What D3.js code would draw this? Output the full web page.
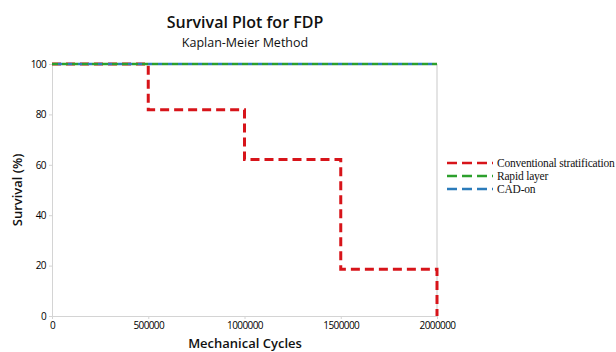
<!DOCTYPE html>
<html><head><meta charset="utf-8">
<script src="https://cdn.jsdelivr.net/npm/d3@7"></script>
<style>body{margin:0;background:#fff}svg{display:block}</style>
</head><body>
<script>
const cycles = [0, 500000, 1000000, 1500000, 2000000];
const conventional = [100, 81.8, 62.1, 18.6, 0];
const rapid = [100, 100, 100, 100, 100];
const cadon = [100, 100, 100, 100, 100];
const seriesNames = ["Conventional stratification", "Rapid layer", "CAD-on"];
const seriesColors = ["#d7141a", "#2ca02c", "#2b7bba"];
const xTicks = [0, 500000, 1000000, 1500000, 2000000];
const yTicks = [0, 20, 40, 60, 80, 100];

const W = 616, H = 352;
const m = {l: 52, r: 179, t: 64, b: 36};
const svg = d3.select("body").append("svg").attr("width", W).attr("height", H);
const x = d3.scaleLinear().domain([0, 2000000]).range([m.l, W - m.r]);
const y = d3.scaleLinear().domain([0, 100]).range([H - m.b, m.t]);
const font = "'Open Sans', 'Noto Sans', sans-serif";

// frame
svg.append("line").attr("x1", x(2000000)).attr("x2", x(2000000)).attr("y1", y(100)).attr("y2", y(0))
  .attr("stroke", "#e4e4e4").attr("stroke-width", 2);

const xa = svg.append("g").attr("transform", `translate(0,${y(0)})`)
  .call(d3.axisBottom(x).tickValues(xTicks).tickFormat(d3.format("d")).tickSize(3));
const ya = svg.append("g").attr("transform", `translate(${x(0)},0)`)
  .call(d3.axisLeft(y).tickValues(yTicks).tickSize(3));
[xa, ya].forEach(a => {
  a.select(".domain").attr("stroke", "#d4d4d4");
  a.selectAll(".tick line").attr("stroke", "#d4d4d4");
  a.selectAll("text").attr("font-family", font).attr("font-size", 10).attr("fill", "#000").attr("letter-spacing", "-0.6px");
});

const step = d3.line().x((d, i) => x(cycles[i])).y(d => y(d)).curve(d3.curveStepAfter);
svg.append("path").datum(conventional).attr("d", step).attr("fill", "none")
  .attr("stroke", seriesColors[0]).attr("stroke-width", 3).attr("stroke-dasharray", "9,5");
svg.append("path").datum(rapid).attr("d", step).attr("fill", "none")
  .attr("stroke", seriesColors[1]).attr("stroke-width", 2.5).attr("stroke-dasharray", "6,4");
svg.append("path").datum(cadon).attr("d", step).attr("fill", "none")
  .attr("stroke", seriesColors[2]).attr("stroke-width", 2.5).attr("stroke-dasharray", "4,6").attr("stroke-dashoffset", -6);

// titles
svg.append("text").attr("x", 245).attr("y", 28).attr("text-anchor", "middle")
  .attr("font-family", font).attr("font-size", 16).attr("font-weight", 600).attr("fill", "#111").text("Survival Plot for FDP");
svg.append("text").attr("x", 245).attr("y", 47).attr("text-anchor", "middle")
  .attr("font-family", font).attr("font-size", 12.5).attr("fill", "#111").text("Kaplan-Meier Method");
svg.append("text").attr("x", 245).attr("y", 348).attr("text-anchor", "middle")
  .attr("font-family", font).attr("font-size", 13).attr("font-weight", 600).attr("fill", "#111").text("Mechanical Cycles");
svg.append("text").attr("transform", "translate(22,190) rotate(-90)").attr("text-anchor", "middle")
  .attr("font-family", font).attr("font-size", 13).attr("font-weight", 600).attr("fill", "#111").text("Survival (%)");

// legend
const lg = svg.append("g").attr("transform", "translate(447,163)");
seriesNames.forEach((n, i) => {
  const g = lg.append("g").attr("transform", `translate(0,${i * 13})`);
  g.append("line").attr("x1", 0).attr("x2", 46).attr("y1", 0).attr("y2", 0)
    .attr("stroke", seriesColors[i]).attr("stroke-width", 2.5).attr("stroke-dasharray", "10,5,10,5,10,5,1,5");
  g.append("text").attr("x", 50).attr("y", 4).attr("font-family", "'Liberation Serif', 'Times New Roman', serif")
    .attr("font-size", 11.5).attr("letter-spacing", "-0.2px").attr("fill", "#111").text(n);
});
</script>
</body></html>
